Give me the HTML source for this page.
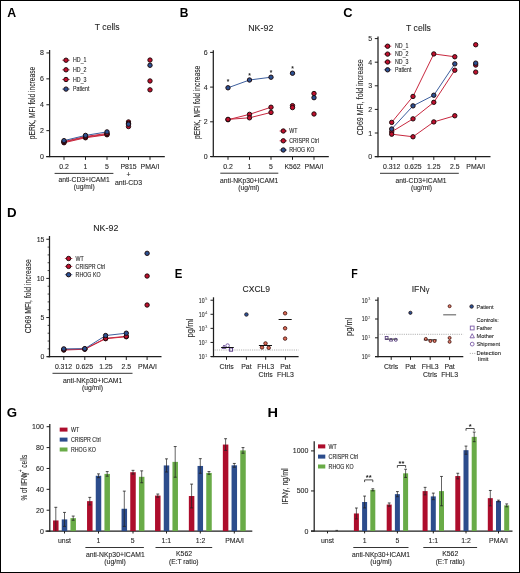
<!DOCTYPE html>
<html><head><meta charset="utf-8"><style>
html,body{margin:0;padding:0;background:#fff;width:520px;height:573px;overflow:hidden;}
svg text{font-family:"Liberation Sans", sans-serif;}
svg{will-change:transform;}
</style></head><body>
<svg width="520" height="573" viewBox="0 0 520 573" style="position:absolute;left:0;top:0">
<g font-family='"Liberation Sans", sans-serif'>
<rect x="0.5" y="0.5" width="519" height="572" fill="#fff" stroke="#000" stroke-width="1"/>
<text x="7.35" y="16.60" font-size="12" textLength="8.9" lengthAdjust="spacingAndGlyphs" font-weight="bold" fill="#000">A</text>
<text x="179.70" y="16.70" font-size="12" textLength="8.67" lengthAdjust="spacingAndGlyphs" font-weight="bold" fill="#000">B</text>
<text x="343.30" y="16.70" font-size="12" textLength="9.3" lengthAdjust="spacingAndGlyphs" font-weight="bold" fill="#000">C</text>
<text x="7.05" y="216.80" font-size="12" textLength="9.6" lengthAdjust="spacingAndGlyphs" font-weight="bold" fill="#000">D</text>
<text x="174.80" y="278.20" font-size="12" textLength="7.6" lengthAdjust="spacingAndGlyphs" font-weight="bold" fill="#000">E</text>
<text x="351.30" y="277.70" font-size="12" textLength="6.5" lengthAdjust="spacingAndGlyphs" font-weight="bold" fill="#000">F</text>
<text x="6.80" y="416.60" font-size="12" textLength="10.3" lengthAdjust="spacingAndGlyphs" font-weight="bold" fill="#000">G</text>
<text x="267.50" y="416.50" font-size="12" textLength="10.5" lengthAdjust="spacingAndGlyphs" font-weight="bold" fill="#000">H</text>
<text x="107.20" y="30.40" font-size="9.5" text-anchor="middle" textLength="24.8" lengthAdjust="spacingAndGlyphs" fill="#262626" stroke="#262626" stroke-width="0.1">T cells</text>
<text x="260.75" y="30.90" font-size="9.5" text-anchor="middle" textLength="25.2" lengthAdjust="spacingAndGlyphs" fill="#262626" stroke="#262626" stroke-width="0.1">NK-92</text>
<text x="418.50" y="30.60" font-size="9.5" text-anchor="middle" textLength="24.8" lengthAdjust="spacingAndGlyphs" fill="#262626" stroke="#262626" stroke-width="0.1">T cells</text>
<text x="105.80" y="230.80" font-size="9.5" text-anchor="middle" textLength="25.2" lengthAdjust="spacingAndGlyphs" fill="#262626" stroke="#262626" stroke-width="0.1">NK-92</text>
<text x="256.30" y="292.10" font-size="9.5" text-anchor="middle" textLength="27.6" lengthAdjust="spacingAndGlyphs" fill="#262626" stroke="#262626" stroke-width="0.1">CXCL9</text>
<line x1="49.60" y1="50.00" x2="49.60" y2="157.15" stroke="#1e1e1e" stroke-width="1.25"/>
<line x1="46.40" y1="156.55" x2="49.60" y2="156.55" stroke="#1e1e1e" stroke-width="1.0"/>
<text x="44.00" y="159.07" font-size="7" text-anchor="end" fill="#262626" stroke="#262626" stroke-width="0.1">0</text>
<line x1="46.40" y1="130.65" x2="49.60" y2="130.65" stroke="#1e1e1e" stroke-width="1.0"/>
<text x="44.00" y="133.17" font-size="7" text-anchor="end" fill="#262626" stroke="#262626" stroke-width="0.1">2</text>
<line x1="46.40" y1="104.75" x2="49.60" y2="104.75" stroke="#1e1e1e" stroke-width="1.0"/>
<text x="44.00" y="107.27" font-size="7" text-anchor="end" fill="#262626" stroke="#262626" stroke-width="0.1">4</text>
<line x1="46.40" y1="78.85" x2="49.60" y2="78.85" stroke="#1e1e1e" stroke-width="1.0"/>
<text x="44.00" y="81.37" font-size="7" text-anchor="end" fill="#262626" stroke="#262626" stroke-width="0.1">6</text>
<line x1="46.40" y1="52.95" x2="49.60" y2="52.95" stroke="#1e1e1e" stroke-width="1.0"/>
<text x="44.00" y="55.47" font-size="7" text-anchor="end" fill="#262626" stroke="#262626" stroke-width="0.1">8</text>
<line x1="46.20" y1="156.55" x2="164.80" y2="156.55" stroke="#1e1e1e" stroke-width="1.25"/>
<line x1="64.00" y1="156.55" x2="64.00" y2="159.85" stroke="#1e1e1e" stroke-width="1.0"/>
<line x1="85.50" y1="156.55" x2="85.50" y2="159.85" stroke="#1e1e1e" stroke-width="1.0"/>
<line x1="107.00" y1="156.55" x2="107.00" y2="159.85" stroke="#1e1e1e" stroke-width="1.0"/>
<line x1="128.50" y1="156.55" x2="128.50" y2="159.85" stroke="#1e1e1e" stroke-width="1.0"/>
<line x1="150.00" y1="156.55" x2="150.00" y2="159.85" stroke="#1e1e1e" stroke-width="1.0"/>
<polyline points="64.00,142.73 85.50,137.76 107.00,134.76" fill="none" stroke="#c8283f" stroke-width="1.0"/>
<polyline points="64.00,142.07 85.50,137.11 107.00,134.24" fill="none" stroke="#c8283f" stroke-width="1.0"/>
<polyline points="64.00,141.55 85.50,136.46 107.00,133.45" fill="none" stroke="#c8283f" stroke-width="1.0"/>
<polyline points="64.00,140.64 85.50,135.41 107.00,131.89" fill="none" stroke="#3d5f9e" stroke-width="1.0"/>
<circle cx="64.00" cy="142.73" r="2.2" fill="#c00f2d" stroke="#1c0a0c" stroke-width="0.95"/>
<circle cx="85.50" cy="137.76" r="2.2" fill="#c00f2d" stroke="#1c0a0c" stroke-width="0.95"/>
<circle cx="107.00" cy="134.76" r="2.2" fill="#c00f2d" stroke="#1c0a0c" stroke-width="0.95"/>
<circle cx="64.00" cy="142.07" r="2.2" fill="#c00f2d" stroke="#1c0a0c" stroke-width="0.95"/>
<circle cx="85.50" cy="137.11" r="2.2" fill="#c00f2d" stroke="#1c0a0c" stroke-width="0.95"/>
<circle cx="107.00" cy="134.24" r="2.2" fill="#c00f2d" stroke="#1c0a0c" stroke-width="0.95"/>
<circle cx="64.00" cy="141.55" r="2.2" fill="#c00f2d" stroke="#1c0a0c" stroke-width="0.95"/>
<circle cx="85.50" cy="136.46" r="2.2" fill="#c00f2d" stroke="#1c0a0c" stroke-width="0.95"/>
<circle cx="107.00" cy="133.45" r="2.2" fill="#c00f2d" stroke="#1c0a0c" stroke-width="0.95"/>
<circle cx="64.00" cy="140.64" r="2.2" fill="#2b5192" stroke="#1c0a0c" stroke-width="0.95"/>
<circle cx="85.50" cy="135.41" r="2.2" fill="#2b5192" stroke="#1c0a0c" stroke-width="0.95"/>
<circle cx="107.00" cy="131.89" r="2.2" fill="#2b5192" stroke="#1c0a0c" stroke-width="0.95"/>
<circle cx="128.50" cy="121.96" r="2.2" fill="#c00f2d" stroke="#1c0a0c" stroke-width="0.95"/>
<circle cx="128.50" cy="126.53" r="2.2" fill="#c00f2d" stroke="#1c0a0c" stroke-width="0.95"/>
<circle cx="128.50" cy="123.40" r="2.2" fill="#c00f2d" stroke="#1c0a0c" stroke-width="0.95"/>
<circle cx="128.50" cy="124.18" r="2.2" fill="#2b5192" stroke="#1c0a0c" stroke-width="0.95"/>
<circle cx="150.00" cy="60.06" r="2.2" fill="#c00f2d" stroke="#1c0a0c" stroke-width="0.95"/>
<circle cx="150.00" cy="80.95" r="2.2" fill="#c00f2d" stroke="#1c0a0c" stroke-width="0.95"/>
<circle cx="150.00" cy="89.83" r="2.2" fill="#c00f2d" stroke="#1c0a0c" stroke-width="0.95"/>
<circle cx="150.00" cy="65.28" r="2.2" fill="#2b5192" stroke="#1c0a0c" stroke-width="0.95"/>
<line x1="62.30" y1="60.20" x2="69.70" y2="60.20" stroke="#c00f2d" stroke-width="0.8"/>
<circle cx="66.00" cy="60.20" r="2.2" fill="#c00f2d" stroke="#1c0a0c" stroke-width="0.95"/>
<text x="73.00" y="62.47" font-size="6.3" textLength="13.53" lengthAdjust="spacingAndGlyphs" fill="#262626" stroke="#262626" stroke-width="0.1">HD_1</text>
<line x1="62.30" y1="69.80" x2="69.70" y2="69.80" stroke="#c00f2d" stroke-width="0.8"/>
<circle cx="66.00" cy="69.80" r="2.2" fill="#c00f2d" stroke="#1c0a0c" stroke-width="0.95"/>
<text x="73.00" y="72.07" font-size="6.3" textLength="13.53" lengthAdjust="spacingAndGlyphs" fill="#262626" stroke="#262626" stroke-width="0.1">HD_2</text>
<line x1="62.30" y1="79.50" x2="69.70" y2="79.50" stroke="#c00f2d" stroke-width="0.8"/>
<circle cx="66.00" cy="79.50" r="2.2" fill="#c00f2d" stroke="#1c0a0c" stroke-width="0.95"/>
<text x="73.00" y="81.77" font-size="6.3" textLength="13.53" lengthAdjust="spacingAndGlyphs" fill="#262626" stroke="#262626" stroke-width="0.1">HD_3</text>
<line x1="62.30" y1="89.10" x2="69.70" y2="89.10" stroke="#2b5192" stroke-width="0.8"/>
<circle cx="66.00" cy="89.10" r="2.2" fill="#2b5192" stroke="#1c0a0c" stroke-width="0.95"/>
<text x="73.00" y="91.37" font-size="6.3" textLength="16.47" lengthAdjust="spacingAndGlyphs" fill="#262626" stroke="#262626" stroke-width="0.1">Patient</text>
<text transform="translate(35.00,102.90) rotate(-90)" x="0" y="0" font-size="9.0" text-anchor="middle" textLength="72.5" lengthAdjust="spacingAndGlyphs" fill="#262626" stroke="#262626" stroke-width="0.1">pERK, MFI fold increase</text>
<text x="64.00" y="168.88" font-size="6.9" text-anchor="middle" fill="#262626" stroke="#262626" stroke-width="0.1">0.2</text>
<text x="85.50" y="168.88" font-size="6.9" text-anchor="middle" fill="#262626" stroke="#262626" stroke-width="0.1">1</text>
<text x="107.00" y="168.88" font-size="6.9" text-anchor="middle" fill="#262626" stroke="#262626" stroke-width="0.1">5</text>
<text x="128.50" y="168.88" font-size="6.9" text-anchor="middle" fill="#262626" stroke="#262626" stroke-width="0.1">P815</text>
<text x="150.00" y="168.88" font-size="6.9" text-anchor="middle" fill="#262626" stroke="#262626" stroke-width="0.1">PMA/I</text>
<text x="128.50" y="177.08" font-size="6.9" text-anchor="middle" fill="#262626" stroke="#262626" stroke-width="0.1">+</text>
<text x="128.50" y="185.18" font-size="6.9" text-anchor="middle" fill="#262626" stroke="#262626" stroke-width="0.1">anti-CD3</text>
<line x1="54.60" y1="173.40" x2="113.40" y2="173.40" stroke="#1e1e1e" stroke-width="0.9"/>
<text x="84.10" y="182.48" font-size="6.9" text-anchor="middle" textLength="51.3" lengthAdjust="spacingAndGlyphs" fill="#262626" stroke="#262626" stroke-width="0.1">anti-CD3+ICAM1</text>
<text x="84.20" y="189.37" font-size="6.9" text-anchor="middle" textLength="21" lengthAdjust="spacingAndGlyphs" fill="#262626" stroke="#262626" stroke-width="0.1">(ug/ml)</text>
<line x1="213.30" y1="50.30" x2="213.30" y2="157.10" stroke="#1e1e1e" stroke-width="1.25"/>
<line x1="210.10" y1="156.50" x2="213.30" y2="156.50" stroke="#1e1e1e" stroke-width="1.0"/>
<text x="207.60" y="159.02" font-size="7" text-anchor="end" fill="#262626" stroke="#262626" stroke-width="0.1">0</text>
<line x1="210.10" y1="121.80" x2="213.30" y2="121.80" stroke="#1e1e1e" stroke-width="1.0"/>
<text x="207.60" y="124.32" font-size="7" text-anchor="end" fill="#262626" stroke="#262626" stroke-width="0.1">2</text>
<line x1="210.10" y1="87.10" x2="213.30" y2="87.10" stroke="#1e1e1e" stroke-width="1.0"/>
<text x="207.60" y="89.62" font-size="7" text-anchor="end" fill="#262626" stroke="#262626" stroke-width="0.1">4</text>
<line x1="210.10" y1="52.40" x2="213.30" y2="52.40" stroke="#1e1e1e" stroke-width="1.0"/>
<text x="207.60" y="54.92" font-size="7" text-anchor="end" fill="#262626" stroke="#262626" stroke-width="0.1">6</text>
<line x1="210.50" y1="156.50" x2="328.80" y2="156.50" stroke="#1e1e1e" stroke-width="1.25"/>
<line x1="228.00" y1="156.50" x2="228.00" y2="159.80" stroke="#1e1e1e" stroke-width="1.0"/>
<line x1="249.50" y1="156.50" x2="249.50" y2="159.80" stroke="#1e1e1e" stroke-width="1.0"/>
<line x1="271.00" y1="156.50" x2="271.00" y2="159.80" stroke="#1e1e1e" stroke-width="1.0"/>
<line x1="292.50" y1="156.50" x2="292.50" y2="159.80" stroke="#1e1e1e" stroke-width="1.0"/>
<line x1="314.00" y1="156.50" x2="314.00" y2="159.80" stroke="#1e1e1e" stroke-width="1.0"/>
<polyline points="228.00,119.72 249.50,114.34 271.00,107.23" fill="none" stroke="#c8283f" stroke-width="1.0"/>
<polyline points="228.00,119.37 249.50,117.81 271.00,112.43" fill="none" stroke="#c8283f" stroke-width="1.0"/>
<polyline points="228.00,87.79 249.50,79.99 271.00,77.21" fill="none" stroke="#3d5f9e" stroke-width="1.0"/>
<circle cx="228.00" cy="119.72" r="2.2" fill="#c00f2d" stroke="#1c0a0c" stroke-width="0.95"/>
<circle cx="228.00" cy="119.37" r="2.2" fill="#c00f2d" stroke="#1c0a0c" stroke-width="0.95"/>
<circle cx="228.00" cy="87.79" r="2.2" fill="#2b5192" stroke="#1c0a0c" stroke-width="0.95"/>
<circle cx="249.50" cy="114.34" r="2.2" fill="#c00f2d" stroke="#1c0a0c" stroke-width="0.95"/>
<circle cx="249.50" cy="117.81" r="2.2" fill="#c00f2d" stroke="#1c0a0c" stroke-width="0.95"/>
<circle cx="249.50" cy="79.99" r="2.2" fill="#2b5192" stroke="#1c0a0c" stroke-width="0.95"/>
<circle cx="271.00" cy="107.23" r="2.2" fill="#c00f2d" stroke="#1c0a0c" stroke-width="0.95"/>
<circle cx="271.00" cy="112.43" r="2.2" fill="#c00f2d" stroke="#1c0a0c" stroke-width="0.95"/>
<circle cx="271.00" cy="77.21" r="2.2" fill="#2b5192" stroke="#1c0a0c" stroke-width="0.95"/>
<circle cx="292.50" cy="105.66" r="2.2" fill="#c00f2d" stroke="#1c0a0c" stroke-width="0.95"/>
<circle cx="292.50" cy="107.57" r="2.2" fill="#c00f2d" stroke="#1c0a0c" stroke-width="0.95"/>
<circle cx="292.50" cy="73.22" r="2.2" fill="#2b5192" stroke="#1c0a0c" stroke-width="0.95"/>
<circle cx="314.00" cy="93.52" r="2.2" fill="#c00f2d" stroke="#1c0a0c" stroke-width="0.95"/>
<circle cx="314.00" cy="113.99" r="2.2" fill="#c00f2d" stroke="#1c0a0c" stroke-width="0.95"/>
<circle cx="314.00" cy="97.68" r="2.2" fill="#2b5192" stroke="#1c0a0c" stroke-width="0.95"/>
<text x="228.00" y="84.03" font-size="6.6" text-anchor="middle" font-weight="bold" fill="#262626">*</text>
<text x="249.50" y="77.53" font-size="6.6" text-anchor="middle" font-weight="bold" fill="#262626">*</text>
<text x="271.00" y="75.03" font-size="6.6" text-anchor="middle" font-weight="bold" fill="#262626">*</text>
<text x="292.50" y="70.73" font-size="6.6" text-anchor="middle" font-weight="bold" fill="#262626">*</text>
<line x1="279.60" y1="131.00" x2="287.00" y2="131.00" stroke="#c00f2d" stroke-width="0.8"/>
<circle cx="283.30" cy="131.00" r="2.2" fill="#c00f2d" stroke="#1c0a0c" stroke-width="0.95"/>
<text x="289.30" y="133.27" font-size="6.3" textLength="8.23" lengthAdjust="spacingAndGlyphs" fill="#262626" stroke="#262626" stroke-width="0.1">WT</text>
<line x1="279.60" y1="140.80" x2="287.00" y2="140.80" stroke="#c00f2d" stroke-width="0.8"/>
<circle cx="283.30" cy="140.80" r="2.2" fill="#c00f2d" stroke="#1c0a0c" stroke-width="0.95"/>
<text x="289.30" y="143.07" font-size="6.3" textLength="29.7" lengthAdjust="spacingAndGlyphs" fill="#262626" stroke="#262626" stroke-width="0.1">CRISPR Ctrl</text>
<line x1="279.60" y1="150.00" x2="287.00" y2="150.00" stroke="#2b5192" stroke-width="0.8"/>
<circle cx="283.30" cy="150.00" r="2.2" fill="#2b5192" stroke="#1c0a0c" stroke-width="0.95"/>
<text x="289.30" y="152.27" font-size="6.3" textLength="24.99" lengthAdjust="spacingAndGlyphs" fill="#262626" stroke="#262626" stroke-width="0.1">RHOG KO</text>
<text transform="translate(199.90,102.30) rotate(-90)" x="0" y="0" font-size="9.0" text-anchor="middle" textLength="73.3" lengthAdjust="spacingAndGlyphs" fill="#262626" stroke="#262626" stroke-width="0.1">pERK, MFI fold increase</text>
<text x="228.00" y="168.98" font-size="6.9" text-anchor="middle" fill="#262626" stroke="#262626" stroke-width="0.1">0.2</text>
<text x="249.50" y="168.98" font-size="6.9" text-anchor="middle" fill="#262626" stroke="#262626" stroke-width="0.1">1</text>
<text x="271.00" y="168.98" font-size="6.9" text-anchor="middle" fill="#262626" stroke="#262626" stroke-width="0.1">5</text>
<text x="292.50" y="168.98" font-size="6.9" text-anchor="middle" fill="#262626" stroke="#262626" stroke-width="0.1">K562</text>
<text x="314.00" y="168.98" font-size="6.9" text-anchor="middle" fill="#262626" stroke="#262626" stroke-width="0.1">PMA/I</text>
<line x1="220.30" y1="173.20" x2="278.30" y2="173.20" stroke="#1e1e1e" stroke-width="0.9"/>
<text x="249.20" y="182.78" font-size="6.9" text-anchor="middle" textLength="58.2" lengthAdjust="spacingAndGlyphs" fill="#262626" stroke="#262626" stroke-width="0.1">anti-NKp30+ICAM1</text>
<text x="248.80" y="190.07" font-size="6.9" text-anchor="middle" textLength="21" lengthAdjust="spacingAndGlyphs" fill="#262626" stroke="#262626" stroke-width="0.1">(ug/ml)</text>
<line x1="378.00" y1="36.50" x2="378.00" y2="157.20" stroke="#1e1e1e" stroke-width="1.25"/>
<line x1="374.80" y1="156.60" x2="378.00" y2="156.60" stroke="#1e1e1e" stroke-width="1.0"/>
<text x="372.20" y="159.12" font-size="7" text-anchor="end" fill="#262626" stroke="#262626" stroke-width="0.1">0</text>
<line x1="374.80" y1="133.00" x2="378.00" y2="133.00" stroke="#1e1e1e" stroke-width="1.0"/>
<text x="372.20" y="135.52" font-size="7" text-anchor="end" fill="#262626" stroke="#262626" stroke-width="0.1">1</text>
<line x1="374.80" y1="109.40" x2="378.00" y2="109.40" stroke="#1e1e1e" stroke-width="1.0"/>
<text x="372.20" y="111.92" font-size="7" text-anchor="end" fill="#262626" stroke="#262626" stroke-width="0.1">2</text>
<line x1="374.80" y1="85.80" x2="378.00" y2="85.80" stroke="#1e1e1e" stroke-width="1.0"/>
<text x="372.20" y="88.32" font-size="7" text-anchor="end" fill="#262626" stroke="#262626" stroke-width="0.1">3</text>
<line x1="374.80" y1="62.20" x2="378.00" y2="62.20" stroke="#1e1e1e" stroke-width="1.0"/>
<text x="372.20" y="64.72" font-size="7" text-anchor="end" fill="#262626" stroke="#262626" stroke-width="0.1">4</text>
<line x1="374.80" y1="38.60" x2="378.00" y2="38.60" stroke="#1e1e1e" stroke-width="1.0"/>
<text x="372.20" y="41.12" font-size="7" text-anchor="end" fill="#262626" stroke="#262626" stroke-width="0.1">5</text>
<line x1="374.80" y1="156.60" x2="490.50" y2="156.60" stroke="#1e1e1e" stroke-width="1.25"/>
<line x1="391.70" y1="156.60" x2="391.70" y2="159.90" stroke="#1e1e1e" stroke-width="1.0"/>
<line x1="413.00" y1="156.60" x2="413.00" y2="159.90" stroke="#1e1e1e" stroke-width="1.0"/>
<line x1="433.80" y1="156.60" x2="433.80" y2="159.90" stroke="#1e1e1e" stroke-width="1.0"/>
<line x1="454.80" y1="156.60" x2="454.80" y2="159.90" stroke="#1e1e1e" stroke-width="1.0"/>
<line x1="475.70" y1="156.60" x2="475.70" y2="159.90" stroke="#1e1e1e" stroke-width="1.0"/>
<polyline points="391.70,122.38 413.00,96.42 433.80,53.94 454.80,56.77" fill="none" stroke="#c8283f" stroke-width="1.0"/>
<polyline points="391.70,131.82 413.00,118.84 433.80,102.32 454.80,70.22" fill="none" stroke="#c8283f" stroke-width="1.0"/>
<polyline points="391.70,134.18 413.00,136.78 433.80,121.91 454.80,115.77" fill="none" stroke="#c8283f" stroke-width="1.0"/>
<polyline points="391.70,128.99 413.00,105.86 433.80,95.24 454.80,63.85" fill="none" stroke="#3d5f9e" stroke-width="1.0"/>
<circle cx="391.70" cy="122.38" r="2.2" fill="#c00f2d" stroke="#1c0a0c" stroke-width="0.95"/>
<circle cx="413.00" cy="96.42" r="2.2" fill="#c00f2d" stroke="#1c0a0c" stroke-width="0.95"/>
<circle cx="433.80" cy="53.94" r="2.2" fill="#c00f2d" stroke="#1c0a0c" stroke-width="0.95"/>
<circle cx="454.80" cy="56.77" r="2.2" fill="#c00f2d" stroke="#1c0a0c" stroke-width="0.95"/>
<circle cx="391.70" cy="131.82" r="2.2" fill="#c00f2d" stroke="#1c0a0c" stroke-width="0.95"/>
<circle cx="413.00" cy="118.84" r="2.2" fill="#c00f2d" stroke="#1c0a0c" stroke-width="0.95"/>
<circle cx="433.80" cy="102.32" r="2.2" fill="#c00f2d" stroke="#1c0a0c" stroke-width="0.95"/>
<circle cx="454.80" cy="70.22" r="2.2" fill="#c00f2d" stroke="#1c0a0c" stroke-width="0.95"/>
<circle cx="391.70" cy="134.18" r="2.2" fill="#c00f2d" stroke="#1c0a0c" stroke-width="0.95"/>
<circle cx="413.00" cy="136.78" r="2.2" fill="#c00f2d" stroke="#1c0a0c" stroke-width="0.95"/>
<circle cx="433.80" cy="121.91" r="2.2" fill="#c00f2d" stroke="#1c0a0c" stroke-width="0.95"/>
<circle cx="454.80" cy="115.77" r="2.2" fill="#c00f2d" stroke="#1c0a0c" stroke-width="0.95"/>
<circle cx="391.70" cy="128.99" r="2.2" fill="#2b5192" stroke="#1c0a0c" stroke-width="0.95"/>
<circle cx="413.00" cy="105.86" r="2.2" fill="#2b5192" stroke="#1c0a0c" stroke-width="0.95"/>
<circle cx="433.80" cy="95.24" r="2.2" fill="#2b5192" stroke="#1c0a0c" stroke-width="0.95"/>
<circle cx="454.80" cy="63.85" r="2.2" fill="#2b5192" stroke="#1c0a0c" stroke-width="0.95"/>
<circle cx="475.70" cy="44.74" r="2.2" fill="#c00f2d" stroke="#1c0a0c" stroke-width="0.95"/>
<circle cx="475.70" cy="65.03" r="2.2" fill="#c00f2d" stroke="#1c0a0c" stroke-width="0.95"/>
<circle cx="475.70" cy="72.11" r="2.2" fill="#c00f2d" stroke="#1c0a0c" stroke-width="0.95"/>
<circle cx="475.70" cy="63.14" r="2.2" fill="#2b5192" stroke="#1c0a0c" stroke-width="0.95"/>
<line x1="383.90" y1="46.20" x2="391.30" y2="46.20" stroke="#c00f2d" stroke-width="0.8"/>
<circle cx="387.60" cy="46.20" r="2.2" fill="#c00f2d" stroke="#1c0a0c" stroke-width="0.95"/>
<text x="395.00" y="48.47" font-size="6.3" textLength="13.53" lengthAdjust="spacingAndGlyphs" fill="#262626" stroke="#262626" stroke-width="0.1">ND_1</text>
<line x1="383.90" y1="54.10" x2="391.30" y2="54.10" stroke="#c00f2d" stroke-width="0.8"/>
<circle cx="387.60" cy="54.10" r="2.2" fill="#c00f2d" stroke="#1c0a0c" stroke-width="0.95"/>
<text x="395.00" y="56.37" font-size="6.3" textLength="13.53" lengthAdjust="spacingAndGlyphs" fill="#262626" stroke="#262626" stroke-width="0.1">ND_2</text>
<line x1="383.90" y1="62.00" x2="391.30" y2="62.00" stroke="#c00f2d" stroke-width="0.8"/>
<circle cx="387.60" cy="62.00" r="2.2" fill="#c00f2d" stroke="#1c0a0c" stroke-width="0.95"/>
<text x="395.00" y="64.27" font-size="6.3" textLength="13.53" lengthAdjust="spacingAndGlyphs" fill="#262626" stroke="#262626" stroke-width="0.1">ND_3</text>
<line x1="383.90" y1="69.80" x2="391.30" y2="69.80" stroke="#2b5192" stroke-width="0.8"/>
<circle cx="387.60" cy="69.80" r="2.2" fill="#2b5192" stroke="#1c0a0c" stroke-width="0.95"/>
<text x="395.00" y="72.07" font-size="6.3" textLength="16.47" lengthAdjust="spacingAndGlyphs" fill="#262626" stroke="#262626" stroke-width="0.1">Patient</text>
<text transform="translate(363.20,97.30) rotate(-90)" x="0" y="0" font-size="9.2" text-anchor="middle" textLength="76" lengthAdjust="spacingAndGlyphs" fill="#262626" stroke="#262626" stroke-width="0.1">CD69 MFI, fold increase</text>
<text x="391.70" y="168.88" font-size="6.9" text-anchor="middle" fill="#262626" stroke="#262626" stroke-width="0.1">0.312</text>
<text x="413.00" y="168.88" font-size="6.9" text-anchor="middle" fill="#262626" stroke="#262626" stroke-width="0.1">0.625</text>
<text x="433.80" y="168.88" font-size="6.9" text-anchor="middle" fill="#262626" stroke="#262626" stroke-width="0.1">1.25</text>
<text x="454.80" y="168.88" font-size="6.9" text-anchor="middle" fill="#262626" stroke="#262626" stroke-width="0.1">2.5</text>
<text x="475.70" y="168.88" font-size="6.9" text-anchor="middle" fill="#262626" stroke="#262626" stroke-width="0.1">PMA/I</text>
<line x1="380.00" y1="173.30" x2="458.80" y2="173.30" stroke="#1e1e1e" stroke-width="0.9"/>
<text x="421.00" y="182.68" font-size="6.9" text-anchor="middle" textLength="51.0" lengthAdjust="spacingAndGlyphs" fill="#262626" stroke="#262626" stroke-width="0.1">anti-CD3+ICAM1</text>
<text x="421.60" y="189.77" font-size="6.9" text-anchor="middle" textLength="21" lengthAdjust="spacingAndGlyphs" fill="#262626" stroke="#262626" stroke-width="0.1">(ug/ml)</text>
<line x1="49.50" y1="236.00" x2="49.50" y2="357.30" stroke="#1e1e1e" stroke-width="1.25"/>
<line x1="46.30" y1="356.70" x2="49.50" y2="356.70" stroke="#1e1e1e" stroke-width="1.0"/>
<text x="44.30" y="359.18" font-size="6.9" text-anchor="end" fill="#262626" stroke="#262626" stroke-width="0.1">0</text>
<line x1="47.60" y1="348.87" x2="49.50" y2="348.87" stroke="#1e1e1e" stroke-width="0.8"/>
<line x1="47.60" y1="341.04" x2="49.50" y2="341.04" stroke="#1e1e1e" stroke-width="0.8"/>
<line x1="47.60" y1="333.21" x2="49.50" y2="333.21" stroke="#1e1e1e" stroke-width="0.8"/>
<line x1="47.60" y1="325.38" x2="49.50" y2="325.38" stroke="#1e1e1e" stroke-width="0.8"/>
<line x1="46.30" y1="317.55" x2="49.50" y2="317.55" stroke="#1e1e1e" stroke-width="1.0"/>
<text x="44.30" y="320.03" font-size="6.9" text-anchor="end" fill="#262626" stroke="#262626" stroke-width="0.1">5</text>
<line x1="47.60" y1="309.72" x2="49.50" y2="309.72" stroke="#1e1e1e" stroke-width="0.8"/>
<line x1="47.60" y1="301.89" x2="49.50" y2="301.89" stroke="#1e1e1e" stroke-width="0.8"/>
<line x1="47.60" y1="294.06" x2="49.50" y2="294.06" stroke="#1e1e1e" stroke-width="0.8"/>
<line x1="47.60" y1="286.23" x2="49.50" y2="286.23" stroke="#1e1e1e" stroke-width="0.8"/>
<line x1="46.30" y1="278.40" x2="49.50" y2="278.40" stroke="#1e1e1e" stroke-width="1.0"/>
<text x="44.30" y="280.88" font-size="6.9" text-anchor="end" fill="#262626" stroke="#262626" stroke-width="0.1">10</text>
<line x1="47.60" y1="270.57" x2="49.50" y2="270.57" stroke="#1e1e1e" stroke-width="0.8"/>
<line x1="47.60" y1="262.74" x2="49.50" y2="262.74" stroke="#1e1e1e" stroke-width="0.8"/>
<line x1="47.60" y1="254.91" x2="49.50" y2="254.91" stroke="#1e1e1e" stroke-width="0.8"/>
<line x1="47.60" y1="247.08" x2="49.50" y2="247.08" stroke="#1e1e1e" stroke-width="0.8"/>
<line x1="46.30" y1="239.25" x2="49.50" y2="239.25" stroke="#1e1e1e" stroke-width="1.0"/>
<text x="44.30" y="241.73" font-size="6.9" text-anchor="end" fill="#262626" stroke="#262626" stroke-width="0.1">15</text>
<line x1="47.40" y1="356.70" x2="161.50" y2="356.70" stroke="#1e1e1e" stroke-width="1.25"/>
<line x1="63.80" y1="356.70" x2="63.80" y2="360.00" stroke="#1e1e1e" stroke-width="1.0"/>
<line x1="84.80" y1="356.70" x2="84.80" y2="360.00" stroke="#1e1e1e" stroke-width="1.0"/>
<line x1="105.60" y1="356.70" x2="105.60" y2="360.00" stroke="#1e1e1e" stroke-width="1.0"/>
<line x1="126.30" y1="356.70" x2="126.30" y2="360.00" stroke="#1e1e1e" stroke-width="1.0"/>
<line x1="147.10" y1="356.70" x2="147.10" y2="360.00" stroke="#1e1e1e" stroke-width="1.0"/>
<polyline points="63.80,350.04 84.80,349.26 105.60,338.69 126.30,336.73" fill="none" stroke="#c8283f" stroke-width="1.0"/>
<polyline points="63.80,349.65 84.80,348.87 105.60,338.30 126.30,336.34" fill="none" stroke="#c8283f" stroke-width="1.0"/>
<polyline points="63.80,348.87 84.80,348.71 105.60,335.56 126.30,333.21" fill="none" stroke="#3d5f9e" stroke-width="1.0"/>
<circle cx="63.80" cy="350.04" r="2.2" fill="#c00f2d" stroke="#1c0a0c" stroke-width="0.95"/>
<circle cx="63.80" cy="349.65" r="2.2" fill="#c00f2d" stroke="#1c0a0c" stroke-width="0.95"/>
<circle cx="63.80" cy="348.87" r="2.2" fill="#2b5192" stroke="#1c0a0c" stroke-width="0.95"/>
<circle cx="84.80" cy="349.26" r="2.2" fill="#c00f2d" stroke="#1c0a0c" stroke-width="0.95"/>
<circle cx="84.80" cy="348.87" r="2.2" fill="#c00f2d" stroke="#1c0a0c" stroke-width="0.95"/>
<circle cx="84.80" cy="348.71" r="2.2" fill="#2b5192" stroke="#1c0a0c" stroke-width="0.95"/>
<circle cx="105.60" cy="338.69" r="2.2" fill="#c00f2d" stroke="#1c0a0c" stroke-width="0.95"/>
<circle cx="105.60" cy="338.30" r="2.2" fill="#c00f2d" stroke="#1c0a0c" stroke-width="0.95"/>
<circle cx="105.60" cy="335.56" r="2.2" fill="#2b5192" stroke="#1c0a0c" stroke-width="0.95"/>
<circle cx="126.30" cy="336.73" r="2.2" fill="#c00f2d" stroke="#1c0a0c" stroke-width="0.95"/>
<circle cx="126.30" cy="336.34" r="2.2" fill="#c00f2d" stroke="#1c0a0c" stroke-width="0.95"/>
<circle cx="126.30" cy="333.21" r="2.2" fill="#2b5192" stroke="#1c0a0c" stroke-width="0.95"/>
<circle cx="147.10" cy="276.05" r="2.2" fill="#c00f2d" stroke="#1c0a0c" stroke-width="0.95"/>
<circle cx="147.10" cy="305.02" r="2.2" fill="#c00f2d" stroke="#1c0a0c" stroke-width="0.95"/>
<circle cx="147.10" cy="253.34" r="2.2" fill="#2b5192" stroke="#1c0a0c" stroke-width="0.95"/>
<line x1="64.90" y1="258.50" x2="72.30" y2="258.50" stroke="#c00f2d" stroke-width="0.8"/>
<circle cx="68.60" cy="258.50" r="2.2" fill="#c00f2d" stroke="#1c0a0c" stroke-width="0.95"/>
<text x="75.60" y="260.77" font-size="6.3" textLength="8.23" lengthAdjust="spacingAndGlyphs" fill="#262626" stroke="#262626" stroke-width="0.1">WT</text>
<line x1="64.90" y1="266.40" x2="72.30" y2="266.40" stroke="#c00f2d" stroke-width="0.8"/>
<circle cx="68.60" cy="266.40" r="2.2" fill="#c00f2d" stroke="#1c0a0c" stroke-width="0.95"/>
<text x="75.60" y="268.67" font-size="6.3" textLength="29.7" lengthAdjust="spacingAndGlyphs" fill="#262626" stroke="#262626" stroke-width="0.1">CRISPR Ctrl</text>
<line x1="64.90" y1="274.70" x2="72.30" y2="274.70" stroke="#2b5192" stroke-width="0.8"/>
<circle cx="68.60" cy="274.70" r="2.2" fill="#2b5192" stroke="#1c0a0c" stroke-width="0.95"/>
<text x="75.60" y="276.97" font-size="6.3" textLength="24.99" lengthAdjust="spacingAndGlyphs" fill="#262626" stroke="#262626" stroke-width="0.1">RHOG KO</text>
<text transform="translate(31.20,296.20) rotate(-90)" x="0" y="0" font-size="9.2" text-anchor="middle" textLength="74" lengthAdjust="spacingAndGlyphs" fill="#262626" stroke="#262626" stroke-width="0.1">CD69 MFI, fold increase</text>
<text x="63.50" y="369.28" font-size="6.9" text-anchor="middle" fill="#262626" stroke="#262626" stroke-width="0.1">0.312</text>
<text x="84.40" y="369.28" font-size="6.9" text-anchor="middle" fill="#262626" stroke="#262626" stroke-width="0.1">0.625</text>
<text x="105.90" y="369.28" font-size="6.9" text-anchor="middle" fill="#262626" stroke="#262626" stroke-width="0.1">1.25</text>
<text x="126.40" y="369.28" font-size="6.9" text-anchor="middle" fill="#262626" stroke="#262626" stroke-width="0.1">2.5</text>
<text x="147.50" y="369.28" font-size="6.9" text-anchor="middle" fill="#262626" stroke="#262626" stroke-width="0.1">PMA/I</text>
<line x1="52.50" y1="373.30" x2="132.50" y2="373.30" stroke="#1e1e1e" stroke-width="0.9"/>
<text x="92.70" y="382.68" font-size="6.9" text-anchor="middle" textLength="59.5" lengthAdjust="spacingAndGlyphs" fill="#262626" stroke="#262626" stroke-width="0.1">anti-NKp30+ICAM1</text>
<text x="92.50" y="389.77" font-size="6.9" text-anchor="middle" textLength="21" lengthAdjust="spacingAndGlyphs" fill="#262626" stroke="#262626" stroke-width="0.1">(ug/ml)</text>
<line x1="213.50" y1="297.30" x2="213.50" y2="357.10" stroke="#1e1e1e" stroke-width="1.25"/>
<line x1="210.50" y1="356.50" x2="213.50" y2="356.50" stroke="#1e1e1e" stroke-width="1.0"/>
<text x="204.50" y="358.95" font-size="6.8" text-anchor="end" textLength="5.7" lengthAdjust="spacingAndGlyphs" fill="#262626" stroke="#262626" stroke-width="0.1">10</text>
<text x="205.20" y="356.60" font-size="3.6" fill="#666" stroke="#666" stroke-width="0.1">1</text>
<line x1="210.50" y1="342.43" x2="213.50" y2="342.43" stroke="#1e1e1e" stroke-width="1.0"/>
<text x="204.50" y="344.88" font-size="6.8" text-anchor="end" textLength="5.7" lengthAdjust="spacingAndGlyphs" fill="#262626" stroke="#262626" stroke-width="0.1">10</text>
<text x="205.20" y="342.53" font-size="3.6" fill="#666" stroke="#666" stroke-width="0.1">2</text>
<line x1="210.50" y1="328.36" x2="213.50" y2="328.36" stroke="#1e1e1e" stroke-width="1.0"/>
<text x="204.50" y="330.81" font-size="6.8" text-anchor="end" textLength="5.7" lengthAdjust="spacingAndGlyphs" fill="#262626" stroke="#262626" stroke-width="0.1">10</text>
<text x="205.20" y="328.46" font-size="3.6" fill="#666" stroke="#666" stroke-width="0.1">3</text>
<line x1="210.50" y1="314.29" x2="213.50" y2="314.29" stroke="#1e1e1e" stroke-width="1.0"/>
<text x="204.50" y="316.74" font-size="6.8" text-anchor="end" textLength="5.7" lengthAdjust="spacingAndGlyphs" fill="#262626" stroke="#262626" stroke-width="0.1">10</text>
<text x="205.20" y="314.39" font-size="3.6" fill="#666" stroke="#666" stroke-width="0.1">4</text>
<line x1="210.50" y1="300.22" x2="213.50" y2="300.22" stroke="#1e1e1e" stroke-width="1.0"/>
<text x="204.50" y="302.67" font-size="6.8" text-anchor="end" textLength="5.7" lengthAdjust="spacingAndGlyphs" fill="#262626" stroke="#262626" stroke-width="0.1">10</text>
<text x="205.20" y="300.32" font-size="3.6" fill="#666" stroke="#666" stroke-width="0.1">5</text>
<line x1="210.80" y1="356.50" x2="298.60" y2="356.50" stroke="#1e1e1e" stroke-width="1.25"/>
<line x1="226.50" y1="356.50" x2="226.50" y2="359.80" stroke="#1e1e1e" stroke-width="1.0"/>
<line x1="246.40" y1="356.50" x2="246.40" y2="359.80" stroke="#1e1e1e" stroke-width="1.0"/>
<line x1="265.70" y1="356.50" x2="265.70" y2="359.80" stroke="#1e1e1e" stroke-width="1.0"/>
<line x1="285.40" y1="356.50" x2="285.40" y2="359.80" stroke="#1e1e1e" stroke-width="1.0"/>
<line x1="214.60" y1="350.00" x2="298.60" y2="350.00" stroke="#9a9a9a" stroke-width="0.8" stroke-dasharray="1.1,1.1"/>
<path d="M224.0,345.0 L225.9,348.4 L222.1,348.4 Z" fill="none" stroke="#5b3d8c" stroke-width="0.9"/>
<circle cx="227.6" cy="345.6" r="1.8" fill="none" stroke="#6a4c9c" stroke-width="0.9"/>
<rect x="229.4" y="348.0" width="3.2" height="3.2" fill="none" stroke="#4f2f80" stroke-width="0.9"/>
<line x1="221.10" y1="347.50" x2="233.80" y2="347.50" stroke="#111" stroke-width="1.0"/>
<circle cx="246.40" cy="314.50" r="1.8" fill="#2b5192" stroke="#1c0a0c" stroke-width="0.7"/>
<circle cx="262.00" cy="347.40" r="1.75" fill="#dc6a56" stroke="#3a0d08" stroke-width="0.8"/>
<circle cx="265.50" cy="343.40" r="1.75" fill="#dc6a56" stroke="#3a0d08" stroke-width="0.8"/>
<circle cx="268.70" cy="347.80" r="1.75" fill="#dc6a56" stroke="#3a0d08" stroke-width="0.8"/>
<line x1="258.90" y1="345.50" x2="272.00" y2="345.50" stroke="#111" stroke-width="1.0"/>
<circle cx="285.10" cy="313.30" r="1.75" fill="#dc6a56" stroke="#3a0d08" stroke-width="0.8"/>
<circle cx="285.10" cy="328.30" r="1.75" fill="#dc6a56" stroke="#3a0d08" stroke-width="0.8"/>
<circle cx="285.10" cy="338.60" r="1.75" fill="#dc6a56" stroke="#3a0d08" stroke-width="0.8"/>
<line x1="278.60" y1="319.50" x2="291.70" y2="319.50" stroke="#111" stroke-width="1.0"/>
<text transform="translate(192.60,328.10) rotate(-90)" x="0" y="0" font-size="9.4" text-anchor="middle" textLength="18.8" lengthAdjust="spacingAndGlyphs" fill="#262626" stroke="#262626" stroke-width="0.1">pg/ml</text>
<text x="226.70" y="368.58" font-size="6.9" text-anchor="middle" fill="#262626" stroke="#262626" stroke-width="0.1">Ctrls</text>
<text x="246.40" y="368.58" font-size="6.9" text-anchor="middle" fill="#262626" stroke="#262626" stroke-width="0.1">Pat</text>
<text x="265.70" y="368.58" font-size="6.9" text-anchor="middle" fill="#262626" stroke="#262626" stroke-width="0.1">FHL3</text>
<text x="285.40" y="368.58" font-size="6.9" text-anchor="middle" fill="#262626" stroke="#262626" stroke-width="0.1">Pat</text>
<text x="265.70" y="376.78" font-size="6.9" text-anchor="middle" fill="#262626" stroke="#262626" stroke-width="0.1">Ctrls</text>
<text x="285.40" y="376.78" font-size="6.9" text-anchor="middle" fill="#262626" stroke="#262626" stroke-width="0.1">FHL3</text>
<text x="420.50" y="291.70" font-size="9.5" text-anchor="middle" textLength="17.6" lengthAdjust="spacingAndGlyphs" fill="#262626" stroke="#262626" stroke-width="0.1">IFN<tspan font-size="8">&#947;</tspan></text>
<line x1="378.00" y1="297.20" x2="378.00" y2="357.20" stroke="#1e1e1e" stroke-width="1.25"/>
<line x1="375.00" y1="356.60" x2="378.00" y2="356.60" stroke="#1e1e1e" stroke-width="1.0"/>
<text x="367.50" y="359.05" font-size="6.8" text-anchor="end" textLength="5.7" lengthAdjust="spacingAndGlyphs" fill="#262626" stroke="#262626" stroke-width="0.1">10</text>
<text x="368.20" y="356.70" font-size="3.6" fill="#666" stroke="#666" stroke-width="0.1">0</text>
<line x1="375.00" y1="337.80" x2="378.00" y2="337.80" stroke="#1e1e1e" stroke-width="1.0"/>
<text x="367.50" y="340.25" font-size="6.8" text-anchor="end" textLength="5.7" lengthAdjust="spacingAndGlyphs" fill="#262626" stroke="#262626" stroke-width="0.1">10</text>
<text x="368.20" y="337.90" font-size="3.6" fill="#666" stroke="#666" stroke-width="0.1">1</text>
<line x1="375.00" y1="319.00" x2="378.00" y2="319.00" stroke="#1e1e1e" stroke-width="1.0"/>
<text x="367.50" y="321.45" font-size="6.8" text-anchor="end" textLength="5.7" lengthAdjust="spacingAndGlyphs" fill="#262626" stroke="#262626" stroke-width="0.1">10</text>
<text x="368.20" y="319.10" font-size="3.6" fill="#666" stroke="#666" stroke-width="0.1">2</text>
<line x1="375.00" y1="300.20" x2="378.00" y2="300.20" stroke="#1e1e1e" stroke-width="1.0"/>
<text x="367.50" y="302.65" font-size="6.8" text-anchor="end" textLength="5.7" lengthAdjust="spacingAndGlyphs" fill="#262626" stroke="#262626" stroke-width="0.1">10</text>
<text x="368.20" y="300.30" font-size="3.6" fill="#666" stroke="#666" stroke-width="0.1">3</text>
<line x1="375.00" y1="356.60" x2="463.30" y2="356.60" stroke="#1e1e1e" stroke-width="1.25"/>
<line x1="391.20" y1="356.60" x2="391.20" y2="359.90" stroke="#1e1e1e" stroke-width="1.0"/>
<line x1="410.50" y1="356.60" x2="410.50" y2="359.90" stroke="#1e1e1e" stroke-width="1.0"/>
<line x1="430.20" y1="356.60" x2="430.20" y2="359.90" stroke="#1e1e1e" stroke-width="1.0"/>
<line x1="449.60" y1="356.60" x2="449.60" y2="359.90" stroke="#1e1e1e" stroke-width="1.0"/>
<line x1="379.60" y1="334.30" x2="463.30" y2="334.30" stroke="#9a9a9a" stroke-width="0.8" stroke-dasharray="1.1,1.1"/>
<line x1="385.20" y1="339.10" x2="397.30" y2="339.10" stroke="#222" stroke-width="1.0"/>
<rect x="385.20" y="336.50" width="2.8" height="2.8" fill="none" stroke="#4a2f72" stroke-width="0.8"/>
<path d="M391.0,338.0 L392.7,341.1 L389.3,341.1 Z" fill="none" stroke="#4a2f72" stroke-width="0.8"/>
<circle cx="395.8" cy="339.8" r="1.5" fill="none" stroke="#4a2f72" stroke-width="0.85"/>
<circle cx="410.40" cy="312.80" r="1.6" fill="#2b5192" stroke="#1c0a0c" stroke-width="0.8"/>
<line x1="423.80" y1="339.90" x2="436.80" y2="339.90" stroke="#111" stroke-width="1.0"/>
<circle cx="425.80" cy="338.90" r="1.5" fill="#e07a68" stroke="#3a0d08" stroke-width="0.8"/>
<circle cx="430.40" cy="341.00" r="1.5" fill="#e07a68" stroke="#3a0d08" stroke-width="0.8"/>
<circle cx="434.60" cy="341.00" r="1.5" fill="#e07a68" stroke="#3a0d08" stroke-width="0.8"/>
<circle cx="449.60" cy="306.20" r="1.5" fill="#e07a68" stroke="#3a0d08" stroke-width="0.8"/>
<circle cx="449.60" cy="337.90" r="1.5" fill="#e07a68" stroke="#3a0d08" stroke-width="0.8"/>
<circle cx="449.60" cy="341.80" r="1.5" fill="#e07a68" stroke="#3a0d08" stroke-width="0.8"/>
<line x1="443.20" y1="314.80" x2="456.10" y2="314.80" stroke="#707070" stroke-width="1.2"/>
<text transform="translate(352.10,326.80) rotate(-90)" x="0" y="0" font-size="9.4" text-anchor="middle" textLength="18.6" lengthAdjust="spacingAndGlyphs" fill="#262626" stroke="#262626" stroke-width="0.1">pg/ml</text>
<text x="391.20" y="368.68" font-size="6.9" text-anchor="middle" fill="#262626" stroke="#262626" stroke-width="0.1">Ctrls</text>
<text x="410.50" y="368.68" font-size="6.9" text-anchor="middle" fill="#262626" stroke="#262626" stroke-width="0.1">Pat</text>
<text x="430.20" y="368.68" font-size="6.9" text-anchor="middle" fill="#262626" stroke="#262626" stroke-width="0.1">FHL3</text>
<text x="449.60" y="368.68" font-size="6.9" text-anchor="middle" fill="#262626" stroke="#262626" stroke-width="0.1">Pat</text>
<text x="430.20" y="376.88" font-size="6.9" text-anchor="middle" fill="#262626" stroke="#262626" stroke-width="0.1">Ctrls</text>
<text x="449.60" y="376.88" font-size="6.9" text-anchor="middle" fill="#262626" stroke="#262626" stroke-width="0.1">FHL3</text>
<circle cx="471.60" cy="306.50" r="1.8" fill="#2b5192" stroke="#1c0a0c" stroke-width="0.7"/>
<text x="476.50" y="308.66" font-size="6.0" textLength="17" lengthAdjust="spacingAndGlyphs" fill="#262626" stroke="#262626" stroke-width="0.1">Patient</text>
<text x="476.50" y="322.26" font-size="6.0" textLength="22.4" lengthAdjust="spacingAndGlyphs" fill="#262626" stroke="#262626" stroke-width="0.1">Controls:</text>
<rect x="470.30" y="326.10" width="3.8" height="3.8" fill="none" stroke="#7a5aa6" stroke-width="0.9"/>
<text x="476.50" y="330.16" font-size="6.0" textLength="15.5" lengthAdjust="spacingAndGlyphs" fill="#262626" stroke="#262626" stroke-width="0.1">Father</text>
<path d="M472.2,333.7 L474.4,337.8 L470.0,337.8 Z" fill="none" stroke="#7a5aa6" stroke-width="0.9"/>
<text x="476.50" y="338.16" font-size="6.0" textLength="17.5" lengthAdjust="spacingAndGlyphs" fill="#262626" stroke="#262626" stroke-width="0.1">Mother</text>
<circle cx="472.2" cy="344.1" r="1.9" fill="none" stroke="#7a5aa6" stroke-width="0.9"/>
<text x="476.50" y="346.26" font-size="6.0" textLength="23.6" lengthAdjust="spacingAndGlyphs" fill="#262626" stroke="#262626" stroke-width="0.1">Shipment</text>
<line x1="469.80" y1="353.40" x2="475.30" y2="353.40" stroke="#9a9a9a" stroke-width="0.8" stroke-dasharray="1.1,1.1"/>
<text x="476.50" y="354.86" font-size="6.0" textLength="24.5" lengthAdjust="spacingAndGlyphs" fill="#262626" stroke="#262626" stroke-width="0.1">Detection</text>
<text x="478.10" y="361.36" font-size="6.0" textLength="10.3" lengthAdjust="spacingAndGlyphs" fill="#262626" stroke="#262626" stroke-width="0.1">limit</text>
<line x1="49.80" y1="424.10" x2="49.80" y2="531.70" stroke="#1e1e1e" stroke-width="1.25"/>
<line x1="46.60" y1="531.10" x2="49.80" y2="531.10" stroke="#1e1e1e" stroke-width="1.0"/>
<text x="43.80" y="533.62" font-size="7" text-anchor="end" fill="#262626" stroke="#262626" stroke-width="0.1">0</text>
<line x1="46.60" y1="510.22" x2="49.80" y2="510.22" stroke="#1e1e1e" stroke-width="1.0"/>
<text x="43.80" y="512.74" font-size="7" text-anchor="end" fill="#262626" stroke="#262626" stroke-width="0.1">20</text>
<line x1="46.60" y1="489.34" x2="49.80" y2="489.34" stroke="#1e1e1e" stroke-width="1.0"/>
<text x="43.80" y="491.86" font-size="7" text-anchor="end" fill="#262626" stroke="#262626" stroke-width="0.1">40</text>
<line x1="46.60" y1="468.46" x2="49.80" y2="468.46" stroke="#1e1e1e" stroke-width="1.0"/>
<text x="43.80" y="470.98" font-size="7" text-anchor="end" fill="#262626" stroke="#262626" stroke-width="0.1">60</text>
<line x1="46.60" y1="447.58" x2="49.80" y2="447.58" stroke="#1e1e1e" stroke-width="1.0"/>
<text x="43.80" y="450.10" font-size="7" text-anchor="end" fill="#262626" stroke="#262626" stroke-width="0.1">80</text>
<line x1="46.60" y1="426.70" x2="49.80" y2="426.70" stroke="#1e1e1e" stroke-width="1.0"/>
<text x="43.80" y="429.22" font-size="7" text-anchor="end" fill="#262626" stroke="#262626" stroke-width="0.1">100</text>
<line x1="45.50" y1="531.10" x2="252.30" y2="531.10" stroke="#1e1e1e" stroke-width="1.25"/>
<line x1="64.50" y1="531.10" x2="64.50" y2="533.50" stroke="#1e1e1e" stroke-width="1.0"/>
<line x1="98.50" y1="531.10" x2="98.50" y2="533.50" stroke="#1e1e1e" stroke-width="1.0"/>
<line x1="133.00" y1="531.10" x2="133.00" y2="533.50" stroke="#1e1e1e" stroke-width="1.0"/>
<line x1="166.50" y1="531.10" x2="166.50" y2="533.50" stroke="#1e1e1e" stroke-width="1.0"/>
<line x1="200.30" y1="531.10" x2="200.30" y2="533.50" stroke="#1e1e1e" stroke-width="1.0"/>
<line x1="234.30" y1="531.10" x2="234.30" y2="533.50" stroke="#1e1e1e" stroke-width="1.0"/>
<rect x="53.05" y="520.45" width="5.50" height="10.65" fill="#ad0d2c"/>
<line x1="55.80" y1="507.30" x2="55.80" y2="531.10" stroke="#222" stroke-width="0.7"/>
<line x1="54.35" y1="507.30" x2="57.25" y2="507.30" stroke="#222" stroke-width="0.8"/>
<rect x="61.75" y="519.41" width="5.50" height="11.69" fill="#2c4c8c"/>
<line x1="64.50" y1="512.41" x2="64.50" y2="526.40" stroke="#222" stroke-width="0.7"/>
<line x1="63.05" y1="512.41" x2="65.95" y2="512.41" stroke="#222" stroke-width="0.8"/>
<line x1="63.05" y1="526.40" x2="65.95" y2="526.40" stroke="#222" stroke-width="0.8"/>
<rect x="70.45" y="518.15" width="5.50" height="12.95" fill="#69ab47"/>
<line x1="73.20" y1="516.07" x2="73.20" y2="520.24" stroke="#222" stroke-width="0.7"/>
<line x1="71.75" y1="516.07" x2="74.65" y2="516.07" stroke="#222" stroke-width="0.8"/>
<line x1="71.75" y1="520.24" x2="74.65" y2="520.24" stroke="#222" stroke-width="0.8"/>
<rect x="87.05" y="501.14" width="5.50" height="29.96" fill="#ad0d2c"/>
<line x1="89.80" y1="497.38" x2="89.80" y2="504.90" stroke="#222" stroke-width="0.7"/>
<line x1="88.35" y1="497.38" x2="91.25" y2="497.38" stroke="#222" stroke-width="0.8"/>
<line x1="88.35" y1="504.90" x2="91.25" y2="504.90" stroke="#222" stroke-width="0.8"/>
<rect x="95.75" y="475.77" width="5.50" height="55.33" fill="#2c4c8c"/>
<line x1="98.50" y1="473.89" x2="98.50" y2="477.65" stroke="#222" stroke-width="0.7"/>
<line x1="97.05" y1="473.89" x2="99.95" y2="473.89" stroke="#222" stroke-width="0.8"/>
<line x1="97.05" y1="477.65" x2="99.95" y2="477.65" stroke="#222" stroke-width="0.8"/>
<rect x="104.45" y="473.89" width="5.50" height="57.21" fill="#69ab47"/>
<line x1="107.20" y1="471.59" x2="107.20" y2="476.19" stroke="#222" stroke-width="0.7"/>
<line x1="105.75" y1="471.59" x2="108.65" y2="471.59" stroke="#222" stroke-width="0.8"/>
<line x1="105.75" y1="476.19" x2="108.65" y2="476.19" stroke="#222" stroke-width="0.8"/>
<rect x="121.55" y="508.76" width="5.50" height="22.34" fill="#2c4c8c"/>
<line x1="124.30" y1="491.11" x2="124.30" y2="526.40" stroke="#222" stroke-width="0.7"/>
<line x1="122.85" y1="491.11" x2="125.75" y2="491.11" stroke="#222" stroke-width="0.8"/>
<line x1="122.85" y1="526.40" x2="125.75" y2="526.40" stroke="#222" stroke-width="0.8"/>
<rect x="130.25" y="472.22" width="5.50" height="58.88" fill="#ad0d2c"/>
<line x1="133.00" y1="470.34" x2="133.00" y2="474.10" stroke="#222" stroke-width="0.7"/>
<line x1="131.55" y1="470.34" x2="134.45" y2="470.34" stroke="#222" stroke-width="0.8"/>
<line x1="131.55" y1="474.10" x2="134.45" y2="474.10" stroke="#222" stroke-width="0.8"/>
<rect x="138.95" y="476.81" width="5.50" height="54.29" fill="#69ab47"/>
<line x1="141.70" y1="470.86" x2="141.70" y2="482.76" stroke="#222" stroke-width="0.7"/>
<line x1="140.25" y1="470.86" x2="143.15" y2="470.86" stroke="#222" stroke-width="0.8"/>
<line x1="140.25" y1="482.76" x2="143.15" y2="482.76" stroke="#222" stroke-width="0.8"/>
<rect x="155.05" y="495.60" width="5.50" height="35.50" fill="#ad0d2c"/>
<line x1="157.80" y1="494.04" x2="157.80" y2="497.17" stroke="#222" stroke-width="0.7"/>
<line x1="156.35" y1="494.04" x2="159.25" y2="494.04" stroke="#222" stroke-width="0.8"/>
<line x1="156.35" y1="497.17" x2="159.25" y2="497.17" stroke="#222" stroke-width="0.8"/>
<rect x="163.75" y="465.43" width="5.50" height="65.67" fill="#2c4c8c"/>
<line x1="166.50" y1="458.86" x2="166.50" y2="472.01" stroke="#222" stroke-width="0.7"/>
<line x1="165.05" y1="458.86" x2="167.95" y2="458.86" stroke="#222" stroke-width="0.8"/>
<line x1="165.05" y1="472.01" x2="167.95" y2="472.01" stroke="#222" stroke-width="0.8"/>
<rect x="172.45" y="461.88" width="5.50" height="69.22" fill="#69ab47"/>
<line x1="175.20" y1="446.54" x2="175.20" y2="477.23" stroke="#222" stroke-width="0.7"/>
<line x1="173.75" y1="446.54" x2="176.65" y2="446.54" stroke="#222" stroke-width="0.8"/>
<line x1="173.75" y1="477.23" x2="176.65" y2="477.23" stroke="#222" stroke-width="0.8"/>
<rect x="188.85" y="496.02" width="5.50" height="35.08" fill="#ad0d2c"/>
<line x1="191.60" y1="484.12" x2="191.60" y2="507.92" stroke="#222" stroke-width="0.7"/>
<line x1="190.15" y1="484.12" x2="193.05" y2="484.12" stroke="#222" stroke-width="0.8"/>
<line x1="190.15" y1="507.92" x2="193.05" y2="507.92" stroke="#222" stroke-width="0.8"/>
<rect x="197.55" y="465.95" width="5.50" height="65.15" fill="#2c4c8c"/>
<line x1="200.30" y1="458.65" x2="200.30" y2="473.26" stroke="#222" stroke-width="0.7"/>
<line x1="198.85" y1="458.65" x2="201.75" y2="458.65" stroke="#222" stroke-width="0.8"/>
<line x1="198.85" y1="473.26" x2="201.75" y2="473.26" stroke="#222" stroke-width="0.8"/>
<rect x="206.25" y="472.95" width="5.50" height="58.15" fill="#69ab47"/>
<line x1="209.00" y1="471.59" x2="209.00" y2="474.31" stroke="#222" stroke-width="0.7"/>
<line x1="207.55" y1="471.59" x2="210.45" y2="471.59" stroke="#222" stroke-width="0.8"/>
<line x1="207.55" y1="474.31" x2="210.45" y2="474.31" stroke="#222" stroke-width="0.8"/>
<rect x="222.85" y="444.55" width="5.50" height="86.55" fill="#ad0d2c"/>
<line x1="225.60" y1="438.71" x2="225.60" y2="450.40" stroke="#222" stroke-width="0.7"/>
<line x1="224.15" y1="438.71" x2="227.05" y2="438.71" stroke="#222" stroke-width="0.8"/>
<line x1="224.15" y1="450.40" x2="227.05" y2="450.40" stroke="#222" stroke-width="0.8"/>
<rect x="231.55" y="465.33" width="5.50" height="65.77" fill="#2c4c8c"/>
<line x1="234.30" y1="463.45" x2="234.30" y2="467.21" stroke="#222" stroke-width="0.7"/>
<line x1="232.85" y1="463.45" x2="235.75" y2="463.45" stroke="#222" stroke-width="0.8"/>
<line x1="232.85" y1="467.21" x2="235.75" y2="467.21" stroke="#222" stroke-width="0.8"/>
<rect x="240.25" y="450.40" width="5.50" height="80.70" fill="#69ab47"/>
<line x1="243.00" y1="447.58" x2="243.00" y2="453.22" stroke="#222" stroke-width="0.7"/>
<line x1="241.55" y1="447.58" x2="244.45" y2="447.58" stroke="#222" stroke-width="0.8"/>
<line x1="241.55" y1="453.22" x2="244.45" y2="453.22" stroke="#222" stroke-width="0.8"/>
<rect x="59.70" y="427.60" width="7.80" height="4.00" fill="#ad0d2c"/>
<text x="70.90" y="431.87" font-size="6.3" textLength="8.23" lengthAdjust="spacingAndGlyphs" fill="#262626" stroke="#262626" stroke-width="0.1">WT</text>
<rect x="59.70" y="437.60" width="7.80" height="4.00" fill="#2c4c8c"/>
<text x="70.90" y="441.87" font-size="6.3" textLength="29.7" lengthAdjust="spacingAndGlyphs" fill="#262626" stroke="#262626" stroke-width="0.1">CRISPR Ctrl</text>
<rect x="59.70" y="447.50" width="7.80" height="4.00" fill="#69ab47"/>
<text x="70.90" y="451.77" font-size="6.3" textLength="24.99" lengthAdjust="spacingAndGlyphs" fill="#262626" stroke="#262626" stroke-width="0.1">RHOG KO</text>
<text transform="translate(26.70,477.65) rotate(-90) scale(0.72,1)" x="0" y="0" font-size="9.0" text-anchor="middle" fill="#262626" stroke="#262626" stroke-width="0.1">% of IFN&#947;<tspan dy="-3.4" font-size="6.5">+</tspan><tspan dy="3.4"> cells</tspan></text>
<text x="64.50" y="543.28" font-size="6.9" text-anchor="middle" fill="#262626" stroke="#262626" stroke-width="0.1">unst</text>
<text x="98.30" y="543.28" font-size="6.9" text-anchor="middle" fill="#262626" stroke="#262626" stroke-width="0.1">1</text>
<text x="132.60" y="543.28" font-size="6.9" text-anchor="middle" fill="#262626" stroke="#262626" stroke-width="0.1">5</text>
<text x="166.30" y="543.28" font-size="6.9" text-anchor="middle" fill="#262626" stroke="#262626" stroke-width="0.1">1:1</text>
<text x="200.50" y="543.28" font-size="6.9" text-anchor="middle" fill="#262626" stroke="#262626" stroke-width="0.1">1:2</text>
<text x="234.60" y="543.28" font-size="6.9" text-anchor="middle" fill="#262626" stroke="#262626" stroke-width="0.1">PMA/I</text>
<line x1="85.40" y1="547.50" x2="143.90" y2="547.50" stroke="#1e1e1e" stroke-width="0.9"/>
<text x="115.30" y="556.78" font-size="6.9" text-anchor="middle" textLength="58.8" lengthAdjust="spacingAndGlyphs" fill="#262626" stroke="#262626" stroke-width="0.1">anti-NKp30+ICAM1</text>
<text x="115.00" y="564.37" font-size="6.9" text-anchor="middle" textLength="21.5" lengthAdjust="spacingAndGlyphs" fill="#262626" stroke="#262626" stroke-width="0.1">(ug/ml)</text>
<line x1="155.50" y1="547.50" x2="212.20" y2="547.50" stroke="#1e1e1e" stroke-width="0.9"/>
<text x="184.00" y="556.48" font-size="6.9" text-anchor="middle" fill="#262626" stroke="#262626" stroke-width="0.1">K562</text>
<text x="183.80" y="564.37" font-size="6.9" text-anchor="middle" textLength="29.6" lengthAdjust="spacingAndGlyphs" fill="#262626" stroke="#262626" stroke-width="0.1">(E:T ratio)</text>
<line x1="314.20" y1="441.30" x2="314.20" y2="531.60" stroke="#1e1e1e" stroke-width="1.25"/>
<line x1="311.00" y1="531.00" x2="314.20" y2="531.00" stroke="#1e1e1e" stroke-width="1.0"/>
<text x="308.40" y="533.52" font-size="7" text-anchor="end" fill="#262626" stroke="#262626" stroke-width="0.1">0</text>
<line x1="311.00" y1="490.95" x2="314.20" y2="490.95" stroke="#1e1e1e" stroke-width="1.0"/>
<text x="308.40" y="493.47" font-size="7" text-anchor="end" fill="#262626" stroke="#262626" stroke-width="0.1">500</text>
<line x1="311.00" y1="450.90" x2="314.20" y2="450.90" stroke="#1e1e1e" stroke-width="1.0"/>
<text x="308.40" y="453.42" font-size="7" text-anchor="end" fill="#262626" stroke="#262626" stroke-width="0.1">1000</text>
<line x1="311.00" y1="531.00" x2="512.50" y2="531.00" stroke="#1e1e1e" stroke-width="1.25"/>
<line x1="327.50" y1="531.00" x2="327.50" y2="533.40" stroke="#1e1e1e" stroke-width="1.0"/>
<line x1="364.60" y1="531.00" x2="364.60" y2="533.40" stroke="#1e1e1e" stroke-width="1.0"/>
<line x1="397.40" y1="531.00" x2="397.40" y2="533.40" stroke="#1e1e1e" stroke-width="1.0"/>
<line x1="433.30" y1="531.00" x2="433.30" y2="533.40" stroke="#1e1e1e" stroke-width="1.0"/>
<line x1="466.00" y1="531.00" x2="466.00" y2="533.40" stroke="#1e1e1e" stroke-width="1.0"/>
<line x1="498.50" y1="531.00" x2="498.50" y2="533.40" stroke="#1e1e1e" stroke-width="1.0"/>
<rect x="353.90" y="513.46" width="5.00" height="17.54" fill="#ad0d2c"/>
<line x1="356.40" y1="508.01" x2="356.40" y2="518.90" stroke="#222" stroke-width="0.7"/>
<line x1="355.00" y1="508.01" x2="357.80" y2="508.01" stroke="#222" stroke-width="0.8"/>
<line x1="355.00" y1="518.90" x2="357.80" y2="518.90" stroke="#222" stroke-width="0.8"/>
<rect x="362.10" y="502.00" width="5.00" height="29.00" fill="#2c4c8c"/>
<line x1="364.60" y1="496.08" x2="364.60" y2="507.93" stroke="#222" stroke-width="0.7"/>
<line x1="363.20" y1="496.08" x2="366.00" y2="496.08" stroke="#222" stroke-width="0.8"/>
<line x1="363.20" y1="507.93" x2="366.00" y2="507.93" stroke="#222" stroke-width="0.8"/>
<rect x="370.30" y="489.83" width="5.00" height="41.17" fill="#69ab47"/>
<line x1="372.80" y1="488.79" x2="372.80" y2="490.87" stroke="#222" stroke-width="0.7"/>
<line x1="371.40" y1="488.79" x2="374.20" y2="488.79" stroke="#222" stroke-width="0.8"/>
<line x1="371.40" y1="490.87" x2="374.20" y2="490.87" stroke="#222" stroke-width="0.8"/>
<rect x="386.70" y="504.57" width="5.00" height="26.43" fill="#ad0d2c"/>
<line x1="389.20" y1="502.96" x2="389.20" y2="506.17" stroke="#222" stroke-width="0.7"/>
<line x1="387.80" y1="502.96" x2="390.60" y2="502.96" stroke="#222" stroke-width="0.8"/>
<line x1="387.80" y1="506.17" x2="390.60" y2="506.17" stroke="#222" stroke-width="0.8"/>
<rect x="394.90" y="494.15" width="5.00" height="36.85" fill="#2c4c8c"/>
<line x1="397.40" y1="491.59" x2="397.40" y2="496.72" stroke="#222" stroke-width="0.7"/>
<line x1="396.00" y1="491.59" x2="398.80" y2="491.59" stroke="#222" stroke-width="0.8"/>
<line x1="396.00" y1="496.72" x2="398.80" y2="496.72" stroke="#222" stroke-width="0.8"/>
<rect x="403.10" y="473.33" width="5.00" height="57.67" fill="#69ab47"/>
<line x1="405.60" y1="469.24" x2="405.60" y2="477.41" stroke="#222" stroke-width="0.7"/>
<line x1="404.20" y1="469.24" x2="407.00" y2="469.24" stroke="#222" stroke-width="0.8"/>
<line x1="404.20" y1="477.41" x2="407.00" y2="477.41" stroke="#222" stroke-width="0.8"/>
<rect x="422.60" y="491.11" width="5.00" height="39.89" fill="#ad0d2c"/>
<line x1="425.10" y1="487.35" x2="425.10" y2="494.87" stroke="#222" stroke-width="0.7"/>
<line x1="423.70" y1="487.35" x2="426.50" y2="487.35" stroke="#222" stroke-width="0.8"/>
<line x1="423.70" y1="494.87" x2="426.50" y2="494.87" stroke="#222" stroke-width="0.8"/>
<rect x="430.80" y="496.40" width="5.00" height="34.60" fill="#2c4c8c"/>
<line x1="433.30" y1="493.11" x2="433.30" y2="499.68" stroke="#222" stroke-width="0.7"/>
<line x1="431.90" y1="493.11" x2="434.70" y2="493.11" stroke="#222" stroke-width="0.8"/>
<line x1="431.90" y1="499.68" x2="434.70" y2="499.68" stroke="#222" stroke-width="0.8"/>
<rect x="439.00" y="491.11" width="5.00" height="39.89" fill="#69ab47"/>
<line x1="441.50" y1="476.45" x2="441.50" y2="505.77" stroke="#222" stroke-width="0.7"/>
<line x1="440.10" y1="476.45" x2="442.90" y2="476.45" stroke="#222" stroke-width="0.8"/>
<line x1="440.10" y1="505.77" x2="442.90" y2="505.77" stroke="#222" stroke-width="0.8"/>
<rect x="455.30" y="476.05" width="5.00" height="54.95" fill="#ad0d2c"/>
<line x1="457.80" y1="473.25" x2="457.80" y2="478.85" stroke="#222" stroke-width="0.7"/>
<line x1="456.40" y1="473.25" x2="459.20" y2="473.25" stroke="#222" stroke-width="0.8"/>
<line x1="456.40" y1="478.85" x2="459.20" y2="478.85" stroke="#222" stroke-width="0.8"/>
<rect x="463.50" y="450.18" width="5.00" height="80.82" fill="#2c4c8c"/>
<line x1="466.00" y1="446.09" x2="466.00" y2="454.26" stroke="#222" stroke-width="0.7"/>
<line x1="464.60" y1="446.09" x2="467.40" y2="446.09" stroke="#222" stroke-width="0.8"/>
<line x1="464.60" y1="454.26" x2="467.40" y2="454.26" stroke="#222" stroke-width="0.8"/>
<rect x="471.70" y="436.88" width="5.00" height="94.12" fill="#69ab47"/>
<line x1="474.20" y1="432.08" x2="474.20" y2="441.69" stroke="#222" stroke-width="0.7"/>
<line x1="472.80" y1="432.08" x2="475.60" y2="432.08" stroke="#222" stroke-width="0.8"/>
<line x1="472.80" y1="441.69" x2="475.60" y2="441.69" stroke="#222" stroke-width="0.8"/>
<rect x="487.80" y="498.16" width="5.00" height="32.84" fill="#ad0d2c"/>
<line x1="490.30" y1="490.47" x2="490.30" y2="505.85" stroke="#222" stroke-width="0.7"/>
<line x1="488.90" y1="490.47" x2="491.70" y2="490.47" stroke="#222" stroke-width="0.8"/>
<line x1="488.90" y1="505.85" x2="491.70" y2="505.85" stroke="#222" stroke-width="0.8"/>
<rect x="496.00" y="500.96" width="5.00" height="30.04" fill="#2c4c8c"/>
<line x1="498.50" y1="500.16" x2="498.50" y2="501.76" stroke="#222" stroke-width="0.7"/>
<line x1="497.10" y1="500.16" x2="499.90" y2="500.16" stroke="#222" stroke-width="0.8"/>
<line x1="497.10" y1="501.76" x2="499.90" y2="501.76" stroke="#222" stroke-width="0.8"/>
<rect x="504.20" y="505.37" width="5.00" height="25.63" fill="#69ab47"/>
<line x1="506.70" y1="503.93" x2="506.70" y2="506.81" stroke="#222" stroke-width="0.7"/>
<line x1="505.30" y1="503.93" x2="508.10" y2="503.93" stroke="#222" stroke-width="0.8"/>
<line x1="505.30" y1="506.81" x2="508.10" y2="506.81" stroke="#222" stroke-width="0.8"/>
<line x1="335.50" y1="530.40" x2="338.00" y2="530.40" stroke="#222" stroke-width="0.8"/>
<path d="M364.60,482.10 L364.60,479.90 L372.80,479.90 L372.80,482.10" fill="none" stroke="#222" stroke-width="0.8"/>
<text x="368.70" y="480.12" font-size="7.5" text-anchor="middle" font-weight="bold" fill="#1a1a1a">**</text>
<path d="M397.40,467.70 L397.40,465.50 L405.60,465.50 L405.60,467.70" fill="none" stroke="#222" stroke-width="0.8"/>
<text x="401.50" y="466.02" font-size="7.5" text-anchor="middle" font-weight="bold" fill="#1a1a1a">**</text>
<path d="M466.00,430.70 L466.00,428.50 L474.20,428.50 L474.20,430.70" fill="none" stroke="#222" stroke-width="0.8"/>
<text x="470.10" y="428.52" font-size="7.5" text-anchor="middle" font-weight="bold" fill="#1a1a1a">*</text>
<rect x="318.00" y="444.40" width="7.30" height="4.00" fill="#ad0d2c"/>
<text x="328.60" y="448.67" font-size="6.3" textLength="8.23" lengthAdjust="spacingAndGlyphs" fill="#262626" stroke="#262626" stroke-width="0.1">WT</text>
<rect x="318.00" y="454.60" width="7.30" height="4.00" fill="#2c4c8c"/>
<text x="328.60" y="458.87" font-size="6.3" textLength="29.7" lengthAdjust="spacingAndGlyphs" fill="#262626" stroke="#262626" stroke-width="0.1">CRISPR Ctrl</text>
<rect x="318.00" y="464.50" width="7.30" height="4.00" fill="#69ab47"/>
<text x="328.60" y="468.77" font-size="6.3" textLength="24.99" lengthAdjust="spacingAndGlyphs" fill="#262626" stroke="#262626" stroke-width="0.1">RHOG KO</text>
<text transform="translate(287.70,486.35) rotate(-90)" x="0" y="0" font-size="9.0" text-anchor="middle" textLength="36" lengthAdjust="spacingAndGlyphs" fill="#262626" stroke="#262626" stroke-width="0.1">IFN&#947;, ng/ml</text>
<text x="327.50" y="543.48" font-size="6.9" text-anchor="middle" fill="#262626" stroke="#262626" stroke-width="0.1">unst</text>
<text x="364.60" y="543.48" font-size="6.9" text-anchor="middle" fill="#262626" stroke="#262626" stroke-width="0.1">1</text>
<text x="397.30" y="543.48" font-size="6.9" text-anchor="middle" fill="#262626" stroke="#262626" stroke-width="0.1">5</text>
<text x="433.30" y="543.48" font-size="6.9" text-anchor="middle" fill="#262626" stroke="#262626" stroke-width="0.1">1:1</text>
<text x="466.00" y="543.48" font-size="6.9" text-anchor="middle" fill="#262626" stroke="#262626" stroke-width="0.1">1:2</text>
<text x="498.50" y="543.48" font-size="6.9" text-anchor="middle" fill="#262626" stroke="#262626" stroke-width="0.1">PMA/I</text>
<line x1="353.30" y1="547.50" x2="408.50" y2="547.50" stroke="#1e1e1e" stroke-width="0.9"/>
<text x="381.00" y="556.78" font-size="6.9" text-anchor="middle" textLength="58" lengthAdjust="spacingAndGlyphs" fill="#262626" stroke="#262626" stroke-width="0.1">anti-NKp30+ICAM1</text>
<text x="381.00" y="564.27" font-size="6.9" text-anchor="middle" textLength="21.5" lengthAdjust="spacingAndGlyphs" fill="#262626" stroke="#262626" stroke-width="0.1">(ug/ml)</text>
<line x1="423.30" y1="547.50" x2="477.10" y2="547.50" stroke="#1e1e1e" stroke-width="0.9"/>
<text x="450.20" y="556.28" font-size="6.9" text-anchor="middle" fill="#262626" stroke="#262626" stroke-width="0.1">K562</text>
<text x="450.20" y="564.07" font-size="6.9" text-anchor="middle" textLength="29" lengthAdjust="spacingAndGlyphs" fill="#262626" stroke="#262626" stroke-width="0.1">(E:T ratio)</text>
</g></svg>
</body></html>
